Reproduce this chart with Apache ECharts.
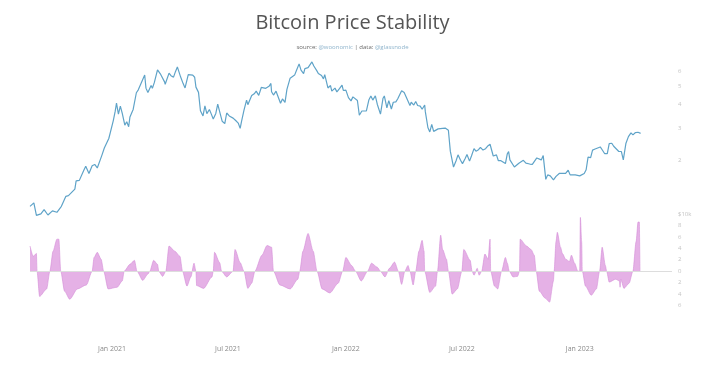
<!DOCTYPE html>
<html>
<head>
<meta charset="utf-8">
<script src="https://cdn.jsdelivr.net/npm/echarts@6/dist/echarts.min.js"></script>
<style>
html,body{margin:0;padding:0;background:#fff;}
#chart{width:705px;height:368px;}
</style>
</head>
<body>
<div id="chart"></div>
<script>
// Bitcoin price (USD), one line per month: dates and values aligned
const priceDates = [
'2020-08-26',
'2020-09-01','2020-09-05','2020-09-12','2020-09-17','2020-09-19','2020-09-23','2020-09-30',
'2020-10-07','2020-10-14','2020-10-21','2020-10-25','2020-10-28',
'2020-11-04','2020-11-06','2020-11-09','2020-11-11','2020-11-18','2020-11-21','2020-11-24','2020-11-26',
'2020-12-01','2020-12-05','2020-12-09','2020-12-12','2020-12-16','2020-12-20','2020-12-23','2020-12-27','2020-12-30',
'2021-01-03','2021-01-06','2021-01-08','2021-01-11','2021-01-14','2021-01-17','2021-01-21','2021-01-24','2021-01-27','2021-01-29',
'2021-02-03','2021-02-08','2021-02-11','2021-02-14','2021-02-21','2021-02-23','2021-02-26',
'2021-03-03','2021-03-05','2021-03-08','2021-03-13','2021-03-18','2021-03-20','2021-03-24','2021-03-25','2021-03-31',
'2021-04-03','2021-04-07','2021-04-10','2021-04-13','2021-04-15','2021-04-18','2021-04-22','2021-04-25','2021-04-30',
'2021-05-03','2021-05-07','2021-05-10','2021-05-12','2021-05-13','2021-05-16','2021-05-19','2021-05-21','2021-05-23','2021-05-26','2021-05-29',
'2021-06-02','2021-06-05','2021-06-08','2021-06-12','2021-06-15','2021-06-19','2021-06-22','2021-06-26','2021-06-29',
'2021-07-03','2021-07-06','2021-07-09','2021-07-13','2021-07-17','2021-07-20','2021-07-22','2021-07-26','2021-07-30',
'2021-08-01','2021-08-04','2021-08-07','2021-08-11','2021-08-14','2021-08-18','2021-08-22','2021-08-25','2021-08-29',
'2021-09-01','2021-09-03','2021-09-06','2021-09-07','2021-09-10','2021-09-14','2021-09-17','2021-09-21','2021-09-24','2021-09-28',
'2021-10-01','2021-10-03','2021-10-06','2021-10-09','2021-10-13','2021-10-16','2021-10-20','2021-10-23','2021-10-27','2021-10-29',
'2021-11-03','2021-11-06','2021-11-09','2021-11-12','2021-11-17','2021-11-19','2021-11-24','2021-11-27','2021-11-29',
'2021-12-01','2021-12-04','2021-12-08','2021-12-10','2021-12-15','2021-12-18','2021-12-22','2021-12-26','2021-12-28',
'2022-01-01','2022-01-05','2022-01-09','2022-01-12','2022-01-15','2022-01-19','2022-01-22','2022-01-26','2022-01-28',
'2022-02-02','2022-02-06','2022-02-09','2022-02-12','2022-02-16','2022-02-19','2022-02-24','2022-02-28',
'2022-03-02','2022-03-06','2022-03-09','2022-03-13','2022-03-16','2022-03-20','2022-03-23','2022-03-29',
'2022-04-02','2022-04-06','2022-04-11','2022-04-13','2022-04-17','2022-04-20','2022-04-23','2022-04-27','2022-04-30',
'2022-05-04','2022-05-05','2022-05-09','2022-05-12','2022-05-15','2022-05-18','2022-05-21','2022-05-25','2022-05-28',
'2022-06-01','2022-06-05','2022-06-08','2022-06-10','2022-06-13','2022-06-15','2022-06-18','2022-06-22','2022-06-25','2022-06-29',
'2022-07-02','2022-07-06','2022-07-09','2022-07-13','2022-07-16','2022-07-20','2022-07-23','2022-07-27','2022-07-30',
'2022-08-03','2022-08-07','2022-08-10','2022-08-12','2022-08-14','2022-08-19','2022-08-24','2022-08-27','2022-08-31',
'2022-09-03','2022-09-07','2022-09-10','2022-09-12','2022-09-14','2022-09-17','2022-09-21','2022-09-24','2022-09-28',
'2022-10-01','2022-10-05','2022-10-09','2022-10-12','2022-10-15','2022-10-19','2022-10-22','2022-10-26','2022-10-29',
'2022-11-02','2022-11-05','2022-11-09','2022-11-12','2022-11-16','2022-11-21','2022-11-25','2022-11-30',
'2022-12-04','2022-12-07','2022-12-10','2022-12-14','2022-12-17','2022-12-21','2022-12-25','2022-12-28',
'2023-01-01','2023-01-04','2023-01-08','2023-01-11','2023-01-14','2023-01-18','2023-01-21','2023-01-25','2023-01-28',
'2023-02-02','2023-02-05','2023-02-09','2023-02-13','2023-02-16','2023-02-20','2023-02-23','2023-02-26',
'2023-03-03','2023-03-07','2023-03-10','2023-03-14','2023-03-18','2023-03-22','2023-03-25','2023-03-29',
'2023-04-02','2023-04-06'];
const prices = [
11400,
11900,10200,10400,10950,11100,10250,10780,
10600,11400,12900,13000,13300,
14100,15600,15300,15700,17800,18700,19100,17100,
18800,19100,18300,18050,21300,23400,23300,26300,28900,
32800,36800,40700,35500,39200,35800,31000,32300,30400,34300,
37600,46200,47900,48700,57500,48900,46300,
50500,48800,52300,61200,57900,58100,52800,51300,58800,
57000,56000,59900,63500,63100,56200,51700,49000,57700,
56600,57400,55900,49500,49700,46400,37000,37300,34700,39300,35700,
37600,35500,33400,35800,40200,35500,32500,31600,36000,
34700,34200,33800,32800,31800,29800,32300,37300,42200,
39900,39800,44600,45600,47100,44700,49300,48900,48800,
48800,50000,51800,46800,44900,47100,47300,40600,42800,41000,
48200,48200,55300,54900,57400,60900,65900,61000,58400,62200,
62900,61400,67500,64200,60300,58600,57100,54800,57800,
57000,49000,50500,47100,48900,46700,48600,50800,47500,
47700,43500,41800,43900,43100,42000,35000,36900,37700,
36900,42400,44400,42200,44500,40100,35500,43200,
44400,38400,41900,37800,41100,41300,42900,47400,
46400,43200,39500,41100,39700,41500,39500,39200,37700,
39700,36600,30100,28500,31300,28700,29400,29600,29000,
29800,29900,30200,29100,22500,22600,18500,20000,21500,20100,
19300,20500,21600,19900,21200,23200,22500,22900,23600,
22800,23200,23900,24400,24500,21200,21500,20000,20000,
19900,19300,21800,22400,20200,20100,18500,18900,19400,
19300,20100,19400,19100,19200,19100,19200,20700,20800,
20200,21300,15900,16800,16600,15800,16500,17100,
17100,16800,17100,17800,16800,16800,16800,16600,
16600,16800,17100,17900,20900,20800,22800,23100,23000,
23700,22900,21800,21800,24700,24800,23900,23500,
22400,22400,20200,24700,26900,28200,27500,28300,
28400,28000];

// Stability indicator ($10k)
const stabDates = ['2020-08-26','2020-08-31','2020-09-05','2020-09-06','2020-09-10','2020-09-21','2020-09-26','2020-10-01','2020-10-07','2020-10-10','2020-10-13','2020-10-19','2020-10-27','2020-11-08','2020-11-22','2020-12-01','2020-12-04','2020-12-09','2020-12-15','2020-12-19','2020-12-26','2021-01-09','2021-01-17','2021-01-20','2021-01-29','2021-02-05','2021-02-09','2021-02-18','2021-02-26','2021-03-01','2021-03-07','2021-03-13','2021-03-15','2021-03-21','2021-03-26','2021-03-31','2021-04-09','2021-04-17','2021-04-21','2021-04-28','2021-05-04','2021-05-09','2021-05-12','2021-05-13','2021-05-24','2021-06-06','2021-06-08','2021-06-10','2021-06-18','2021-06-21','2021-06-29','2021-07-09','2021-07-12','2021-07-20','2021-07-26','2021-08-01','2021-08-07','2021-08-12','2021-08-23','2021-08-31','2021-09-07','2021-09-10','2021-09-20','2021-10-06','2021-10-18','2021-10-21','2021-10-26','2021-11-03','2021-11-11','2021-11-17','2021-11-25','2021-12-07','2021-12-20','2021-12-27','2022-01-01','2022-01-10','2022-01-16','2022-01-25','2022-02-04','2022-02-10','2022-02-19','2022-02-24','2022-03-03','2022-03-10','2022-03-18','2022-03-24','2022-03-29','2022-04-03','2022-04-08','2022-04-11','2022-04-16','2022-04-20','2022-04-25','2022-04-30','2022-05-03','2022-05-04','2022-05-12','2022-05-21','2022-05-24','2022-05-29','2022-06-01','2022-06-07','2022-06-10','2022-06-16','2022-06-24','2022-07-01','2022-07-04','2022-07-14','2022-07-17','2022-07-20','2022-07-25','2022-07-28','2022-08-01','2022-08-06','2022-08-11','2022-08-14','2022-08-15','2022-08-21','2022-08-26','2022-09-01','2022-09-07','2022-09-10','2022-09-13','2022-09-19','2022-09-26','2022-09-29','2022-09-30','2022-10-10','2022-10-17','2022-10-22','2022-10-25','2022-10-30','2022-11-08','2022-11-15','2022-11-21','2022-11-22','2022-11-25','2022-11-27','2022-12-02','2022-12-05','2022-12-10','2022-12-16','2022-12-19','2022-12-24','2022-12-29','2023-01-01','2023-01-02','2023-01-04','2023-01-05','2023-01-10','2023-01-19','2023-01-27','2023-02-01','2023-02-05','2023-02-10','2023-02-12','2023-02-16','2023-02-26','2023-03-04','2023-03-05','2023-03-06','2023-03-11','2023-03-19','2023-03-25','2023-03-30','2023-04-02','2023-04-04','2023-04-05'];
const stabValues = [4.4,2.6,3.1,0,-4.4,-3.1,0,3.5,5.6,5.6,0,-3.5,-4.9,-3.1,-2.4,0,2.4,3.3,2.1,0,-3.1,-2.8,-1.7,0,1.2,1.9,0,-1.6,-0.5,0,1.9,1.2,0,-0.9,0,4.4,3.5,2.6,0,-2.6,-1,1.4,0,-2.5,-3.0,-1,0,3.3,1.5,0,-1.0,0,3.8,1.5,0,-3.0,-2.1,0,2.8,4.5,4.2,0,-2.4,-3.1,-1.4,0,3.5,6.6,3.5,0,-3.1,-3.8,-2.1,0,2.4,1.0,0,-1.7,0,1.4,0.7,0,-1.0,0.5,1.6,0,-2.3,0,1.0,0,-2.4,0,3.5,5.4,3.5,0,-3.7,-2.6,0,6.3,3.8,2.1,0,-4.0,-3.1,0,3.8,1.9,0,-0.7,0.5,-0.7,0,3.0,2.1,5.6,0,-2.6,-3.1,0,2.4,1.4,0,-1.0,-0.9,0,5.6,4.4,3.8,2.8,0,-3.5,-4.7,-5.4,-1.7,0,5.2,6.8,4.2,3.1,2.1,1.7,2.8,1.4,0,0,9.4,5.2,0,-2.6,-4.2,-3.1,0,4.2,1.0,0,-1.9,-1.4,-1.7,-2.8,-1.4,-3.0,-2.1,0,5.2,8.6,8.6,0];

// Tick labels
const xTickDates = ['2021-01-01','2021-07-01','2022-01-01','2022-07-01','2023-01-01'];
const priceTicks = [20000,30000,40000,50000,60000];
const monthNames = ['Jan','Feb','Mar','Apr','May','Jun','Jul','Aug','Sep','Oct','Nov','Dec'];

const ts = d => Date.UTC(+d.slice(0,4), +d.slice(5,7)-1, +d.slice(8,10));
const priceData = priceDates.map((d,i)=>[ts(d), prices[i]]);
const stabData = stabDates.map((d,i)=>[ts(d), stabValues[i]]);
const xMin = ts('2020-08-26');
const xMax = ts('2023-05-25');

const chart = echarts.init(document.getElementById('chart'), null, {renderer:'canvas'});
chart.setOption({
  backgroundColor:'#ffffff',
  animation:false,
  title:{
    text:'Bitcoin Price Stability',
    left:'center', top:8,
    textStyle:{fontFamily:'Open Sans', fontSize:20, fontWeight:'normal', color:'#555555'},
    subtext:'{a|source: }{b|@woonomic}{a| | data: }{b|@glassnode}',
    itemGap:11,
    subtextStyle:{
      rich:{
        a:{fontFamily:'Open Sans', fontSize:6, color:'#666666'},
        b:{fontFamily:'Open Sans', fontSize:6, color:'#8fb4cc'}
      }
    }
  },
  grid:[
    {left:30, right:33, top:59, height:158},
    {left:30, right:33, top:214, height:103}
  ],
  xAxis:[
    {type:'value', gridIndex:0, min:xMin, max:xMax, show:false, splitLine:{show:false}},
    {type:'value', gridIndex:1, min:xMin, max:xMax,
     axisLine:{show:false}, axisTick:{show:false}, splitLine:{show:false},
     axisLabel:{
       customValues: xTickDates.map(ts),
       margin:28, fontFamily:'Open Sans', fontSize:7, color:'#8a8a8a',
       formatter:function(v){const d=new Date(v); return monthNames[d.getUTCMonth()]+' '+d.getUTCFullYear();}
     }
    }
  ],
  yAxis:[
    {type:'log', logBase:10, gridIndex:0, position:'right', min:10000, max:70000,
     axisLine:{show:false}, axisTick:{show:false}, splitLine:{show:false},
     axisLabel:{customValues:priceTicks, margin:6, fontFamily:'Open Sans', fontSize:6, color:'#c4c4c4',
       formatter:function(v){return String(Math.round(v/10000));}}
    },
    {type:'value', gridIndex:1, position:'right', min:-8, max:10, interval:2,
     axisLine:{show:false}, axisTick:{show:false}, splitLine:{show:false},
     axisLabel:{showMinLabel:false, margin:6, fontFamily:'Open Sans', fontSize:6, color:'#c4c4c4',
       formatter:function(v){return v===10?'$10k':String(Math.abs(v));}}
    }
  ],
  series:[
    {type:'line', xAxisIndex:0, yAxisIndex:0, data:priceData, showSymbol:false,
     lineStyle:{color:'#5fa3c8', width:1.2}, itemStyle:{color:'#5fa3c8'}},
    {type:'line', xAxisIndex:1, yAxisIndex:1, data:stabData, showSymbol:false,
     smooth:0.25, smoothMonotone:'x',
     lineStyle:{width:0.6, color:'#d38bd6'}, itemStyle:{color:'#d38bd6'},
     areaStyle:{color:'#da90dc', origin:0},
     markLine:{silent:true, symbol:'none', label:{show:false},
       lineStyle:{color:'#dddddd', type:'solid', width:1},
       data:[{yAxis:0}]}
    }
  ]
});
</script>
</body>
</html>
